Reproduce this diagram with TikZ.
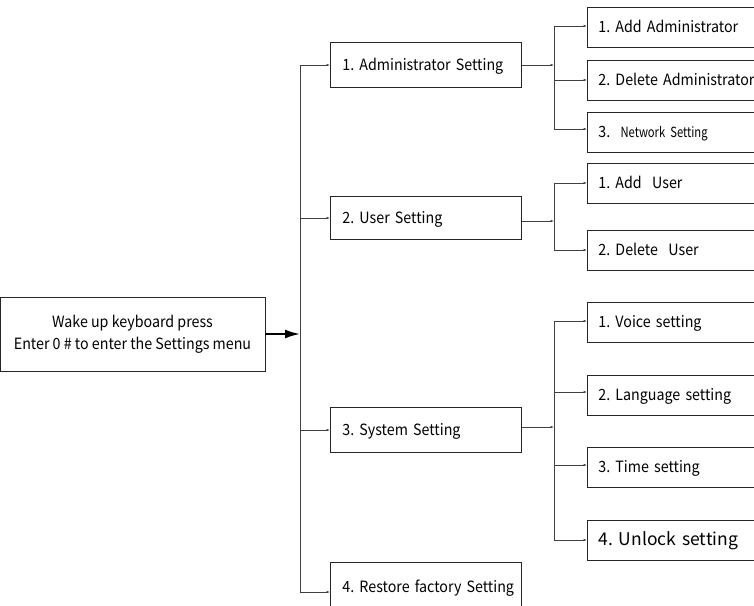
\documentclass[tikz,border=0pt]{standalone}
\usepackage{fontspec}
\setmainfont[FakeStretch=0.92]{Noto Sans CJK SC}
\newfontfamily\widefont{Noto Sans CJK SC}
\newfontfamily\narrowfont[FakeStretch=0.8]{Noto Sans CJK SC}
\usetikzlibrary{arrows.meta,positioning}
\tikzset{
  menubox/.style={draw=black!85, line width=0.8pt, anchor=west, align=left,
    inner xsep=12pt, inner ysep=0pt, minimum height=45pt, text width=167pt,
    text height=13pt, text depth=2pt,
    font=\fontsize{15.5}{18}\selectfont},
  subbox/.style={menubox, minimum height=40pt, text width=176pt, inner xsep=11pt},
  link/.style={draw=black!75, line width=0.8pt},
  linkarr/.style={link, -{Latex[length=3.5pt,width=2.6pt]}},
  mainarr/.style={line width=2pt, -{Latex[length=15pt,width=9pt]}}
}
\begin{document}
\frenchspacing
\begin{tikzpicture}[x=1pt,y=-1pt]
\useasboundingbox (0,0) rectangle (754,605);
% start box
\node[draw=black!85, line width=0.8pt, minimum width=265pt, minimum height=74pt,
  align=center, font=\fontsize{15.5}{22}\selectfont] (wake) at (132.5,334)
  {Wake up keyboard press\\Enter 0 \# to enter the Settings menu};
\coordinate (trunk) at (300,0);
\coordinate (fork) at (554,0);
% level 1
\node[menubox] (adm) at (330,65) {\mbox{1. Administrator Setting}};
\node[menubox, minimum height=43pt] (usr) at (330,218) {2. User Setting};
\node[menubox] (sys) at (330,430) {3. System Setting};
\node[menubox, minimum height=50pt] (rst) at (330,587) {\mbox{4. Restore factory Setting}};
% level 2
\node[subbox] (adm1) at (587,27) {1. Add Administrator};
\node[subbox] (adm2) at (587,80) {\mbox{2. Delete Administrator}};
\node[subbox] (adm3) at (587,132) {3.\ \ {\narrowfont\fontsize{14}{16}\selectfont Network Setting}};
\node[subbox] (usr1) at (587,183) {1. Add\ \ User};
\node[subbox] (usr2) at (587,250) {2. Delete\ \ User};
\node[subbox] (sys1) at (587,322) {1. Voice setting};
\node[subbox] (sys2) at (587,395) {2. Language setting};
\node[subbox] (sys3) at (587,467) {3. Time setting};
\node[subbox, font=\widefont\fontsize{17.5}{20}\selectfont] (sys4) at (587,540) {4. Unlock setting};
% connectors
\draw[mainarr] (wake.east) -- (trunk |- wake.east);
\draw[link] (trunk |- adm.west) -- ([yshift=-5pt]trunk |- rst.west);
\foreach \n in {adm,usr,sys}
  \draw[linkarr] (trunk |- \n.west) -- (\n.west);
\draw[linkarr] ([yshift=-5pt]trunk |- rst.west) -- ([yshift=-5pt]rst.west);
\draw[linkarr] (adm.east) -- (fork |- adm.east);
\draw[linkarr] ([yshift=-3pt]usr.east) -- ([yshift=-3pt]fork |- usr.east);
\draw[linkarr] ([yshift=3pt]sys.east) -- ([yshift=3pt]fork |- sys.east);
\draw[link] ([yshift=1pt]fork |- adm1.west) -- ([yshift=3pt]fork |- adm3.west);
\draw[link] (fork |- usr1.west) -- (fork |- usr2.west);
\draw[link] ([yshift=1pt]fork |- sys1.west) -- (fork |- sys4.west);
\foreach \n/\d in {adm1/1,adm2/0,adm3/3,usr1/0,usr2/0,sys1/1,sys2/3,sys3/2,sys4/0}
  \draw[linkarr] ([yshift=\d pt]fork |- \n.west) -- ([yshift=\d pt]\n.west);
\end{tikzpicture}
\end{document}
